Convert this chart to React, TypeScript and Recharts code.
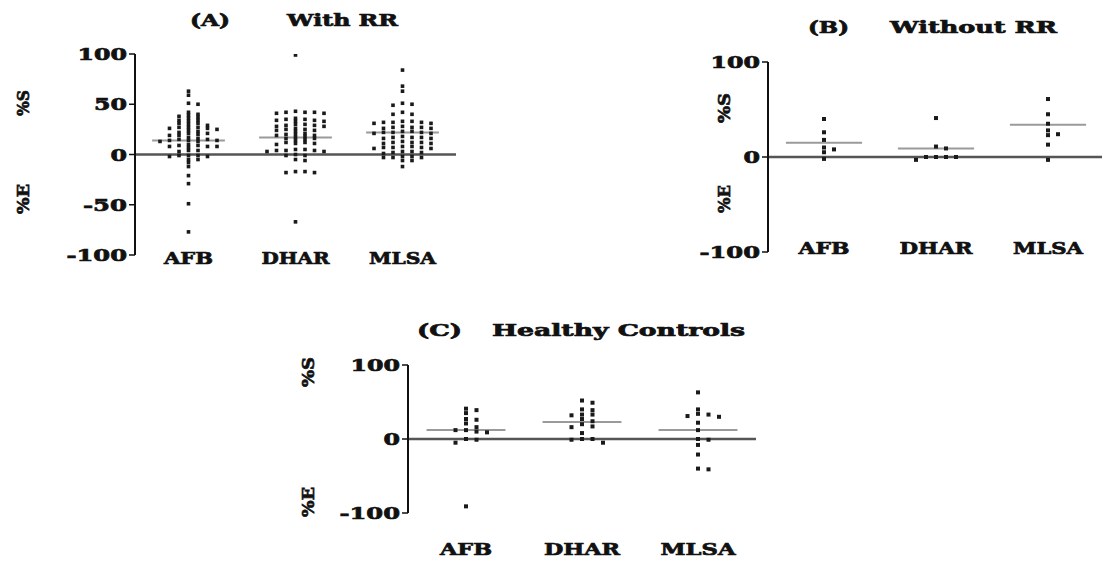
import React from 'react';
import { ScatterChart, Scatter, XAxis, YAxis, ReferenceLine } from 'recharts';

// ---------- data ----------
const CATEGORIES = ['AFB', 'DHAR', 'MLSA'];

// (A) With RR
const A_AFB = [63, 59, 51, 50, 42, 40, 39, 38, 37, 36, 34, 34, 33, 31, 31, 30, 29, 27, 27, 27, 26, 26, 25, 24, 23, 22, 21, 21, 20, 19, 19, 17, 16, 15, 15, 14, 14, 14, 13, 13, 10, 9, 9, 8, 8, 8, 7, 4, 4, 3, -1, -1, -1, -2, -2, -5, -5, -8, -12, -21, -29, -49, -77];
const A_DHAR = [99, 42, 42, 41, 43, 42, 41, 35, 34, 33, 35, 34, 36, 33, 29, 28, 30, 29, 28, 30, 25, 24, 23, 25, 24, 26, 20, 19, 18, 20, 19, 17, 21, 16, 15, 14, 16, 12, 11, 10, 12, 11, 5, 4, 3, 4, 5, 4, 3, 0, -1, -1, -5, -6, -17, -18, -17, -18, -67];
const A_MLSA = [84, 68, 63, 51, 50, 49, 42, 40, 40, 32, 33, 31, 32, 33, 32, 31, 27, 26, 28, 27, 26, 27, 22, 23, 21, 22, 23, 22, 21, 17, 16, 18, 17, 16, 17, 12, 11, 13, 12, 11, 12, 7, 6, 8, 7, 6, 7, 8, 2, 3, 1, 2, 3, -3, -3, -2, -3, -2, -6, -6, -12];
const A_MEANS = [14, 17, 22];

// (B) Without RR
const B_AFB = [40, 26, 18, 10, 8, 5, -2];
const B_DHAR = [41, 11, 9, 0, 0, 0, 0, -3];
const B_MLSA = [61, 45, 35, 28, 24, 23, 13, -3];
const B_MEANS = [15, 9, 34];

// (C) Healthy Controls
const C_AFB = [41, 39, 35, 27, 26, 21, 16, 12, 12, 10, 9, 0, -1, -5, -91];
const C_DHAR = [52, 49, 40, 39, 33, 33, 32, 27, 24, 20, 17, 16, 8, 0, 0, -1, -5];
const C_MLSA = [63, 40, 34, 33, 31, 30, 22, 12, 0, -1, -8, -21, -40, -41];
const C_MEANS = [12, 23, 12];

const Y_TICKS_A = [-100, -50, 0, 50, 100];
const Y_TICKS_BC = [-100, 0, 100];

// ---------- styles ----------
const FONT = '"DejaVu Serif", serif';
const FS = 17;
const INK = '#111';
const TEXT_STROKE = 0.7;
const DIGIT_W = 16.5;
const MINUS_W = 11;
const Y_AXIS_W = 60;

// deterministic column-scatter layout (beeswarm on a grid)
function swarm(values: number[], cat: number, pxPerUnit: number, stepUnits: number, gapPx: number) {
  const sorted = [...values].sort((a, b) => b - a);
  const placed: { k: number; y: number }[] = [];
  return sorted.map((v) => {
    const yPx = v * pxPerUnit;
    for (let j = 0; ; j++) {
      const k = j === 0 ? 0 : j % 2 === 1 ? (j + 1) / 2 : -j / 2;
      if (!placed.some((p) => p.k === k && Math.abs(p.y - yPx) < gapPx)) {
        placed.push({ k, y: yPx });
        return { x: cat + k * stepUnits, y: v };
      }
    }
  });
}

const makeSquare = (s: number) => (props: any) => {
  const { cx, cy } = props;
  return <rect x={cx - s / 2} y={cy - s / 2} width={s} height={s} fill="#1a1a1a" />;
};

const textStyle = {
  fontFamily: FONT, fontWeight: 'bold' as const, fontSize: FS, fill: INK,
  stroke: INK, strokeWidth: TEXT_STROKE,
};

const YTick = (props: any) => {
  const { x, y, payload } = props;
  const s = String(payload.value);
  const len = s.replace('-', '').length * DIGIT_W + (s.startsWith('-') ? MINUS_W : 0);
  return (
    <text x={x} y={y} dy={6} textAnchor="end" textLength={len} lengthAdjust="spacingAndGlyphs" {...textStyle}>{s}</text>
  );
};

const makeXTick = (widths: number[], dy: number) => (props: any) => {
  const { x, y, payload } = props;
  const i = Math.round(payload.value) - 1;
  if (i < 0 || i > 2) return <g />;
  return (
    <text x={x} y={y} dy={dy} textAnchor="middle" textLength={widths[i]} lengthAdjust="spacingAndGlyphs" {...textStyle}>{CATEGORIES[i]}</text>
  );
};

type Cfg = {
  left: number; top: number; width: number; height: number;
  margin: { top: number; right: number; left: number; bottom: number };
  xAxisHeight: number; yTicks: number[]; labelWidths: number[]; labelDy: number;
  colPx: number; gapPx: number; dot: number;
};

const PANEL_A: Cfg = { left: 0, top: 0, width: 470, height: 280, margin: { top: 54, right: 14, left: 75, bottom: 0 }, xAxisHeight: 25, yTicks: Y_TICKS_A, labelWidths: [49, 68, 67], labelDy: 8.5, colPx: 9.5, gapPx: 2.4, dot: 3.6 };
const PANEL_B: Cfg = { left: 700, top: 0, width: 410, height: 277, margin: { top: 62, right: 6, left: 8, bottom: 0 }, xAxisHeight: 25, yTicks: Y_TICKS_BC, labelWidths: [51, 73, 70], labelDy: 1.5, colPx: 10, gapPx: 4, dot: 4 };
const PANEL_C: Cfg = { left: 300, top: 300, width: 470, height: 258, margin: { top: 65, right: 14, left: 48, bottom: 0 }, xAxisHeight: 45, yTicks: Y_TICKS_BC, labelWidths: [52, 76, 75], labelDy: 41.5, colPx: 10.5, gapPx: 4, dot: 4 };

function Panel({ cfg, series, means }: { cfg: Cfg; series: number[][]; means: number[] }) {
  const plotH = cfg.height - cfg.margin.top - cfg.margin.bottom - cfg.xAxisHeight;
  const plotW = cfg.width - cfg.margin.left - cfg.margin.right - Y_AXIS_W;
  const pxPerUnit = plotH / 200;
  const step = (cfg.colPx * 3) / plotW;
  const points = series.flatMap((vals, i) => swarm(vals, i + 1, pxPerUnit, step, cfg.gapPx));
  return (
    <div style={{ position: 'absolute', left: cfg.left, top: cfg.top }}>
      <ScatterChart width={cfg.width} height={cfg.height} margin={cfg.margin}>
        <XAxis type="number" dataKey="x" domain={[0.5, 3.5]} ticks={[1, 2, 3]} axisLine={false} tickLine={false}
          tickSize={0} tickMargin={0} height={cfg.xAxisHeight} tick={makeXTick(cfg.labelWidths, cfg.labelDy)} allowDataOverflow interval={0} />
        <YAxis type="number" dataKey="y" domain={[-100, 100]} ticks={cfg.yTicks} width={Y_AXIS_W}
          axisLine={{ stroke: INK, strokeWidth: 2 }} tickLine={{ stroke: INK, strokeWidth: 1.5 }} tickSize={6} tickMargin={2}
          tick={<YTick />} allowDataOverflow interval={0} />
        <ReferenceLine y={0} stroke="#555" strokeWidth={2.5} />
        {means.map((m, i) => (
          <ReferenceLine key={i} segment={[{ x: i + 1 - 0.34, y: m }, { x: i + 1 + 0.34, y: m }]} stroke="#9a9a9a" strokeWidth={2} />
        ))}
        <Scatter data={points} shape={makeSquare(cfg.dot)} isAnimationActive={false} />
      </ScatterChart>
    </div>
  );
}

const T = (p: { x: number; y: number; len: number; children: string }) => (
  <text x={p.x} y={p.y} textLength={p.len} lengthAdjust="spacingAndGlyphs" {...textStyle}>{p.children}</text>
);
const R = (p: { cx: number; cy: number; len: number; children: string }) => (
  <text x={p.cx} y={p.cy} transform={`rotate(-90 ${p.cx} ${p.cy})`} textAnchor="middle" dominantBaseline="central"
    textLength={p.len} lengthAdjust="spacingAndGlyphs" {...textStyle}>{p.children}</text>
);

export default function App() {
  return (
    <div style={{ position: 'fixed', left: 0, top: 0, width: 1102, height: 561, overflow: 'hidden', background: '#fff' }}>
      <Panel cfg={PANEL_A} series={[A_AFB, A_DHAR, A_MLSA]} means={A_MEANS} />
      <Panel cfg={PANEL_B} series={[B_AFB, B_DHAR, B_MLSA]} means={B_MEANS} />
      <Panel cfg={PANEL_C} series={[C_AFB, C_DHAR, C_MLSA]} means={C_MEANS} />
      <svg width={1102} height={561} style={{ position: 'absolute', left: 0, top: 0, pointerEvents: 'none' }}>
        <T x={190} y={26} len={40}>(A)</T>
        <T x={287} y={26} len={111}>With RR</T>
        <T x={808} y={33} len={41}>(B)</T>
        <T x={890} y={33} len={167}>Without RR</T>
        <T x={417} y={336} len={45}>(C)</T>
        <T x={492} y={336} len={253}>Healthy Controls</T>
        <R cx={23} cy={103} len={26}>%S</R>
        <R cx={23} cy={199} len={30}>%E</R>
        <R cx={724} cy={108} len={30}>%S</R>
        <R cx={724} cy={199} len={28}>%E</R>
        <R cx={308} cy={372} len={30}>%S</R>
        <R cx={308} cy={502} len={30}>%E</R>
      </svg>
    </div>
  );
}
